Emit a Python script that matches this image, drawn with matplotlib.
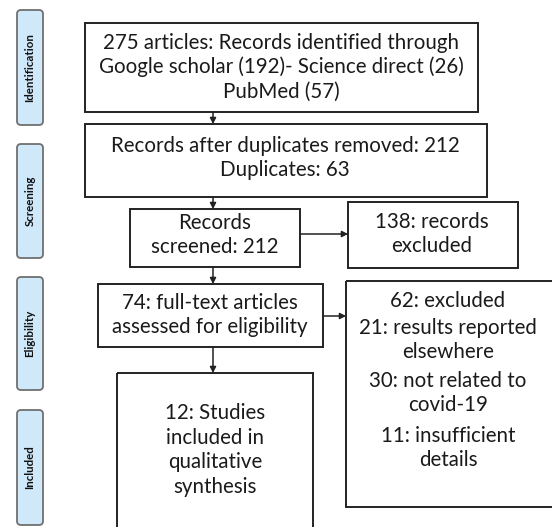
import matplotlib
matplotlib.use("Agg")
import matplotlib.pyplot as plt
from matplotlib.patches import Rectangle, FancyBboxPatch

# ---- data ----
stage_labels = ["Identification", "Screening", "Eligibility", "Included"]
box_identified = "275 articles: Records identified through\nGoogle scholar (192)- Science direct (26)\nPubMed (57)"
box_dedup = "Records after duplicates removed: 212\nDuplicates: 63"
box_screened = "Records\nscreened: 212"
box_excluded1 = "138: records\nexcluded"
box_fulltext = "74: full-text articles\nassessed for eligibility"
excluded_reasons = ["62: excluded", "21: results reported\nelsewhere", "30: not related to\ncovid-19", "11: insufficient\ndetails"]
box_included = "12: Studies\nincluded in\nqualitative\nsynthesis"

W, H = 552, 527
fig = plt.figure(figsize=(W / 100, H / 100), dpi=100)
ax = fig.add_axes([0, 0, 1, 1])
ax.set_xlim(0, W)
ax.set_ylim(H, 0)
ax.axis("off")

FONT = "Lato"
FS = 14.8
LW = 1.4
EC = "#222222"

def box(x0, y0, x1, y1):
    ax.add_patch(Rectangle((x0, y0), x1 - x0, y1 - y0, fill=False, ec=EC, lw=LW, clip_on=True))

def txt(x, y, s, fs=FS, ls=1.25):
    ax.text(x, y, s, ha="center", va="center", fontsize=fs, family=FONT, color="#1a1a1a", linespacing=ls)

def arrow(x0, y0, x1, y1):
    ax.annotate("", xy=(x1, y1), xytext=(x0, y0),
                arrowprops=dict(arrowstyle="-|>,head_length=0.35,head_width=0.18", lw=1.1, color=EC,
                                shrinkA=0, shrinkB=0))

# stage labels
stage_y = [(10, 125), (144, 258), (277, 390), (410, 525)]
for lab, (ya, yb) in zip(stage_labels, stage_y):
    ax.add_patch(FancyBboxPatch((17, ya), 26, yb - ya, boxstyle="round,pad=0,rounding_size=4",
                                fc="#cfe9fb", ec="#6f6f6f", lw=1.3))
    ax.text(30, (ya + yb) / 2, lab, rotation=90, ha="center", va="center", fontsize=8.3,
            fontweight="bold", family=FONT, color="#111111")

# boxes
box(85, 23, 478, 112)
txt(281, 67, box_identified)
box(85, 124, 487, 197)
txt(285, 158, box_dedup)
box(130, 209, 300, 267)
txt(215, 235, box_screened)
box(348, 202, 518, 268)
txt(432, 234, box_excluded1)
box(98, 284, 323, 347)
txt(210, 315, box_fulltext)
box(346, 281, 560, 507)
for s, y in zip(excluded_reasons, [301, 340, 393, 448]):
    txt(448, y, s)
box(117, 373, 313, 540)
txt(215, 450, box_included, ls=1.3)

# arrows
cx = 213
arrow(cx, 112, cx, 124)
arrow(cx, 197, cx, 209)
arrow(cx, 267, cx, 284)
arrow(cx, 347, cx, 373)
arrow(300, 234, 348, 234)
arrow(323, 316, 346, 316)

fig.savefig("out.png", dpi=100, facecolor="white")
